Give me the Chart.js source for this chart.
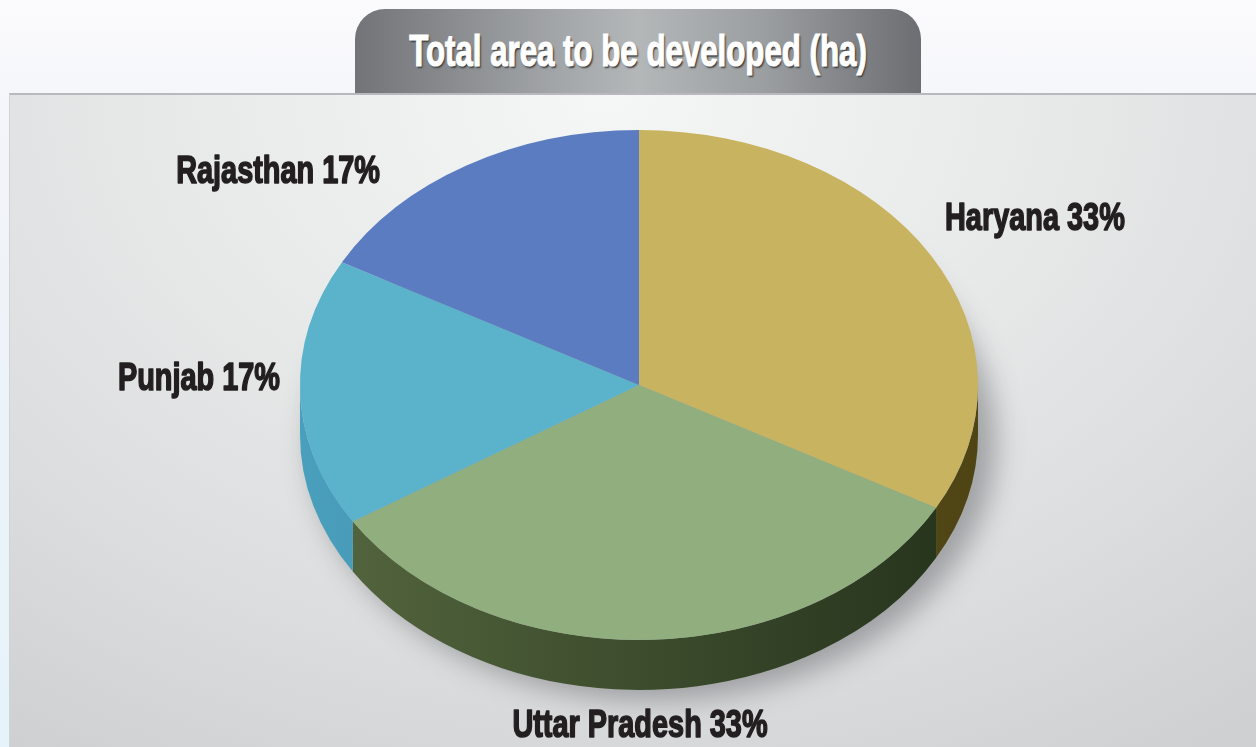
<!DOCTYPE html>
<html>
<head>
<meta charset="utf-8">
<script src="https://cdn.jsdelivr.net/npm/chart.js@4"></script>
<style>
  html,body{margin:0;padding:0;background:#fff;}
  #wrap{position:relative;width:1256px;height:747px;overflow:hidden;
    background:linear-gradient(180deg,#fbfbfd 0%,#f3f4f8 20%,#eaf3f9 60%,#e6f3fa 100%);}
  #panel{position:absolute;left:9px;top:93px;right:0;bottom:0;
    border-top:2px solid #b8b9bc;border-left:1px solid #d2d3d6;
    background:radial-gradient(ellipse 85% 120% at 48% 0%, #f5f6f6 0%, #e8eaea 40%, #dcdedf 70%, #cfd0d1 100%);}
  #tab{position:absolute;left:355px;top:9px;width:566px;height:84px;border-radius:30px 30px 0 0;
    background:linear-gradient(90deg,#727477 0%,#a2a5a7 35%,#b4b7b8 50%,#9c9fa1 72%,#6c6e71 100%);}
  #tab span{position:absolute;left:50%;top:42px;white-space:nowrap;color:#fff;
    font:bold 44px "Liberation Sans",Arial,sans-serif;
    -webkit-text-stroke:1.2px #fff;
    transform:translate(-50%,-50%) scaleX(0.71);
    text-shadow:2px 2px 2px #3a3b3d;}
  canvas{position:absolute;left:0;top:0;}
</style>
</head>
<body>
<div id="wrap">
  <div id="tab"><span>Total area to be developed (ha)</span></div>
  <div id="panel"></div>
  <canvas id="pie" width="1256" height="747"></canvas>
</div>
<script>
const states = ['Haryana', 'Uttar Pradesh', 'Punjab', 'Rajasthan'];
const shares = [33, 33, 17, 17];
const topColors = ['#c8b360', '#90ae7e', '#5bb3cb', '#5b7cc1'];
const sideColors = [['#7a6a26','#4e4414'], ['#55673f','#24321b'], ['#4a9fbd','#2f7c98'], ['#3f5a99','#2c4279']];
// where each label sits [x, y, align]
const labelPos = [[945, 220, 'left'], [640, 727, 'center'], [280, 380, 'right'], [380, 173, 'right']];

const squash = 0.752;   // vertical scale of the top face
const depth = 50;       // thickness of the pie
const narrow = 0.76;    // horizontal squeeze for the condensed label font

function sidePath(ctx, cx, cy, r, a0, a1){
  ctx.beginPath();
  ctx.ellipse(cx, cy, r, r*squash, 0, a0, a1);
  ctx.lineTo(cx + r*Math.cos(a1), cy + depth + r*squash*Math.sin(a1));
  ctx.ellipse(cx, cy + depth, r, r*squash, 0, a1, a0, true);
  ctx.closePath();
}

const pie3d = {
  id: 'pie3d',
  beforeDatasetsDraw(chart){
    const ctx = chart.ctx;
    const arcs = chart.getDatasetMeta(0).data;
    const {x: cx, y: cy, outerRadius: r} = arcs[0];

    // soft shadow under the disc
    ctx.save();
    ctx.filter = 'blur(14px)';
    ctx.fillStyle = 'rgba(40,40,45,0.35)';
    ctx.beginPath();
    ctx.ellipse(cx + 14, cy + depth + 6, r + 4, r*squash + 4, 0, 0, Math.PI*2);
    ctx.fill();
    ctx.restore();

    // side wall, only the front half shows
    arcs.forEach((a, i) => {
      const a0 = Math.max(a.startAngle, 0), a1 = Math.min(a.endAngle, Math.PI);
      if (a1 <= a0) return;
      const g = ctx.createLinearGradient(cx - r, 0, cx + r, 0);
      g.addColorStop(0, sideColors[i][0]);
      g.addColorStop(1, sideColors[i][1]);
      ctx.fillStyle = g;
      sidePath(ctx, cx, cy, r, a0, a1);
      ctx.fill();
    });

    ctx.save();
    ctx.translate(cx, cy);
    ctx.scale(1, squash);
    ctx.translate(-cx, -cy);
  },
  afterDatasetsDraw(chart){
    chart.ctx.restore();
  },
  afterDraw(chart){
    const ctx = chart.ctx;
    states.forEach((s, i) => {
      const [x, y, al] = labelPos[i];
      const txt = `${s} ${shares[i]}%`;
      ctx.save();
      ctx.translate(x, y);
      ctx.scale(narrow, 1);
      ctx.fillStyle = ctx.strokeStyle = '#231f20';
      ctx.lineWidth = 1.6;
      ctx.lineJoin = 'round';
      ctx.font = 'bold 38px "Liberation Sans",Arial,sans-serif';
      ctx.textBaseline = 'middle';
      ctx.textAlign = al;
      ctx.fillText(txt, 0, 0);
      ctx.strokeText(txt, 0, 0);
      ctx.restore();
    });
  }
};

new Chart(document.getElementById('pie'), {
  type: 'pie',
  data: {
    labels: states,
    datasets: [{ data: shares, backgroundColor: topColors, borderWidth: 0, clip: false }]
  },
  options: {
    responsive: false,
    animation: false,
    layout: { padding: { left: 300, right: 278, top: 46, bottom: 23 } },
    plugins: { legend: { display: false }, tooltip: { enabled: false } }
  },
  plugins: [pie3d]
});
</script>
</body>
</html>
